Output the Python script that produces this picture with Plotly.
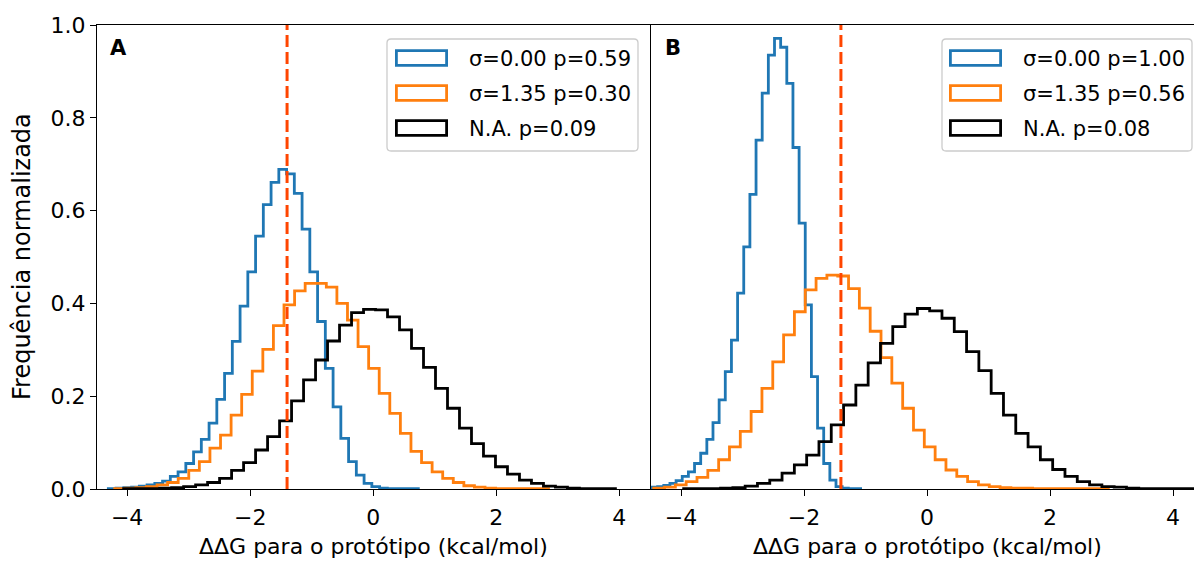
import numpy as np
import plotly.graph_objects as go

# ---------------- data ----------------
# Panel A
a_sig0_start, a_sig0_width = -4.306, 0.126
a_sig0 = [0.001, 0.002, 0.003, 0.004, 0.006, 0.009, 0.012, 0.017, 0.027, 0.037,
          0.055, 0.080, 0.107, 0.142, 0.193, 0.249, 0.318, 0.394, 0.468, 0.545,
          0.613, 0.661, 0.689, 0.679, 0.637, 0.560, 0.468, 0.361, 0.260, 0.177,
          0.109, 0.059, 0.030, 0.012, 0.005, 0.002, 0.001, 0.001, 0.0005, 0.0005]

a_sig135_start, a_sig135_width = -4.202, 0.172
a_sig135 = [0.001, 0.002, 0.003, 0.005, 0.009, 0.014, 0.023, 0.040, 0.059, 0.088,
            0.116, 0.159, 0.204, 0.254, 0.301, 0.352, 0.397, 0.427, 0.443, 0.443,
            0.435, 0.400, 0.364, 0.307, 0.260, 0.206, 0.163, 0.120, 0.081, 0.057,
            0.037, 0.023, 0.014, 0.007, 0.004, 0.002, 0.001, 0.001, 0.0005, 0.0005, 0.0005]

a_na_start, a_na_width = -4.057, 0.195
a_na = [0.0005, 0.001, 0.001, 0.002, 0.003, 0.005, 0.009, 0.014, 0.023, 0.040,
        0.057, 0.084, 0.113, 0.147, 0.190, 0.235, 0.278, 0.319, 0.353, 0.380,
        0.387, 0.386, 0.371, 0.343, 0.303, 0.262, 0.217, 0.174, 0.131, 0.098,
        0.071, 0.048, 0.032, 0.019, 0.012, 0.006, 0.004, 0.002, 0.001, 0.001, 0.0005]

# Panel B
b_sig0_start, b_sig0_width = -4.48, 0.100
b_sig0 = [0.004, 0.005, 0.008, 0.012, 0.018, 0.027, 0.037, 0.055, 0.077, 0.107,
          0.143, 0.192, 0.253, 0.321, 0.422, 0.522, 0.635, 0.752, 0.853, 0.935,
          0.971, 0.952, 0.874, 0.736, 0.573, 0.397, 0.242, 0.131, 0.055, 0.019,
          0.005, 0.002, 0.001, 0.001]

b_sig135_start, b_sig135_width = -4.444, 0.176
b_sig135 = [0.002, 0.004, 0.009, 0.016, 0.025, 0.040, 0.063, 0.091, 0.124, 0.167,
            0.217, 0.274, 0.332, 0.382, 0.429, 0.454, 0.461, 0.459, 0.432, 0.390,
            0.340, 0.283, 0.228, 0.174, 0.127, 0.091, 0.063, 0.041, 0.027, 0.016,
            0.009, 0.005, 0.003, 0.002, 0.002, 0.001, 0.001, 0.001, 0.0005, 0.0005,
            0.0005, 0.0005]

b_na_start, b_na_width = -3.957, 0.200
b_na = [0.0005, 0.001, 0.001, 0.002, 0.003, 0.006, 0.012, 0.019, 0.034, 0.052,
        0.073, 0.102, 0.138, 0.181, 0.224, 0.272, 0.314, 0.350, 0.377, 0.389,
        0.384, 0.368, 0.339, 0.296, 0.255, 0.206, 0.159, 0.120, 0.091, 0.063,
        0.042, 0.027, 0.016, 0.009, 0.005, 0.004, 0.002, 0.001, 0.001, 0.0005,
        0.0005, 0.0005]

threshold = -1.40
legend_a = ["σ=0.00 p=0.59", "σ=1.35 p=0.30", "N.A. p=0.09"]
legend_b = ["σ=0.00 p=1.00", "σ=1.35 p=0.56", "N.A. p=0.08"]
panel_labels = ["A", "B"]
x_ticks = [-4, -2, 0, 2, 4]
y_ticks = [0.0, 0.2, 0.4, 0.6, 0.8, 1.0]
x_title = "ΔΔG para o protótipo (kcal/mol)"
y_title = "Frequência normalizada"

colors = ["#1f77b4", "#ff7f0e", "#000000"]
FONT = "DejaVu Sans"
FS = 21
FS_TICK = 22
FS_TITLE = 22
FS_YTITLE = 24

# ---------------- layout geometry ----------------
W, H = 1194, 561
ML, MR, MT, MB = 97, 0, 25, 72
PW, PH = W - ML - MR, H - MT - MB


def px(p):
    return (p - ML) / PW


def py(p):
    return (H - MB - p) / PH


def step_xy(start, width, vals):
    edges = start + width * np.arange(len(vals) + 1)
    x = [edges[0]] + list(edges[:-1]) + [edges[-1]]
    y = [0.0] + list(vals) + [0.0]
    return x, y


fig = go.Figure()

series = [
    ("x", "y", [(a_sig0_start, a_sig0_width, a_sig0), (a_sig135_start, a_sig135_width, a_sig135),
                (a_na_start, a_na_width, a_na)]),
    ("x2", "y2", [(b_sig0_start, b_sig0_width, b_sig0), (b_sig135_start, b_sig135_width, b_sig135),
                  (b_na_start, b_na_width, b_na)]),
]
for xa, ya, sers in series:
    for (st, wd, vals), col in zip(sers, colors):
        x, y = step_xy(st, wd, vals)
        fig.add_trace(go.Scatter(x=x, y=y, mode="lines", line=dict(color=col, width=2.8, shape="hv"),
                                 xaxis=xa, yaxis=ya, showlegend=False, hoverinfo="skip"))

shapes = []
annotations = []
# threshold lines
for xr, yr in [("x", "y"), ("x2", "y2")]:
    shapes.append(dict(type="line", xref=xr, yref=yr, x0=threshold, x1=threshold, y0=0, y1=1,
                       line=dict(color="#ff4500", width=3, dash="12px,5px"), layer="above"))


# legends
def rounded_rect(x0, y0, x1, y1, r):
    X0, X1 = px(x0), px(x1)
    Y0, Y1 = py(y0), py(y1)
    rx, ry = r / PW, r / PH
    return (f"M {X0+rx},{Y0} L {X1-rx},{Y0} Q {X1},{Y0} {X1},{Y0-ry} "
            f"L {X1},{Y1+ry} Q {X1},{Y1} {X1-rx},{Y1} L {X0+rx},{Y1} "
            f"Q {X0},{Y1} {X0},{Y1+ry} L {X0},{Y0-ry} Q {X0},{Y0} {X0+rx},{Y0} Z")


rows = [58, 93, 128]
for (bx0, bx1, hx0, tx), labels in [((387, 638, 396.4, 467), legend_a), ((942, 1192, 950.4, 1021), legend_b)]:
    shapes.append(dict(type="path", xref="paper", yref="paper", path=rounded_rect(bx0, 39, bx1, 151, 4),
                       line=dict(color="#cccccc", width=1.3), fillcolor="rgba(255,255,255,0.8)", layer="above"))
    for rc, col, lab in zip(rows, colors, labels):
        shapes.append(dict(type="rect", xref="paper", yref="paper", x0=px(hx0), x1=px(hx0 + 50.2),
                           y0=py(rc + 7.3), y1=py(rc - 7.3), line=dict(color=col, width=2.8),
                           fillcolor="rgba(0,0,0,0)", layer="above"))
        annotations.append(dict(xref="paper", yref="paper", x=px(tx), y=py(rc + 1), text=lab, showarrow=False,
                                xanchor="left", yanchor="middle", font=dict(family=FONT, size=FS, color="black")))

# panel labels
for xpix, lab in [(108, panel_labels[0]), (663, panel_labels[1])]:
    annotations.append(dict(xref="paper", yref="paper", x=px(xpix), y=py(48), text=f"<b>{lab}</b>",
                            showarrow=False, xanchor="left", yanchor="middle",
                            font=dict(family=FONT, size=FS, color="black")))

# axis titles
for xr in ["x", "x2"]:
    annotations.append(dict(xref=xr, yref="paper", x=0, y=py(546), text=x_title, showarrow=False,
                            xanchor="center", yanchor="middle",
                            font=dict(family=FONT, size=FS_TITLE, color="black")))
annotations.append(dict(xref="paper", yref="paper", x=px(22), y=0.5, text=y_title, showarrow=False, textangle=-90,
                        xanchor="center", yanchor="middle", font=dict(family=FONT, size=FS_YTITLE, color="black")))

axis_common = dict(showline=True, linecolor="black", linewidth=1.3, showgrid=False, zeroline=False,
                   ticks="outside", ticklen=6, tickwidth=1.3, tickcolor="black",
                   tickfont=dict(family=FONT, size=FS_TICK, color="black"))

fig.update_layout(
    width=W, height=H,
    margin=dict(l=ML, r=MR, t=MT, b=MB, pad=0),
    paper_bgcolor="white", plot_bgcolor="white",
    showlegend=False,
    xaxis=dict(domain=[0, 553 / PW], range=[-4.49, 4.5], tickvals=x_ticks, mirror=True, anchor="y",
               ticklabelstandoff=2, **axis_common),
    yaxis=dict(domain=[0, 1], range=[0, 1], tickvals=y_ticks, tickformat=".1f", mirror=True, anchor="x",
               **axis_common),
    xaxis2=dict(domain=[554 / PW, 1], range=[-4.488, 4.341], tickvals=x_ticks, mirror=True, anchor="y2",
                ticklabelstandoff=2, **axis_common),
    yaxis2=dict(domain=[0, 1], range=[0, 1], anchor="x2", showline=True, linecolor="black", linewidth=1.3,
                showgrid=False, zeroline=False, ticks="", showticklabels=False),
    shapes=shapes,
    annotations=annotations,
)

fig.write_html("out.html", config={"displayModeBar": False},
               post_script="document.body.style.margin='0';document.body.style.overflow='hidden';")
